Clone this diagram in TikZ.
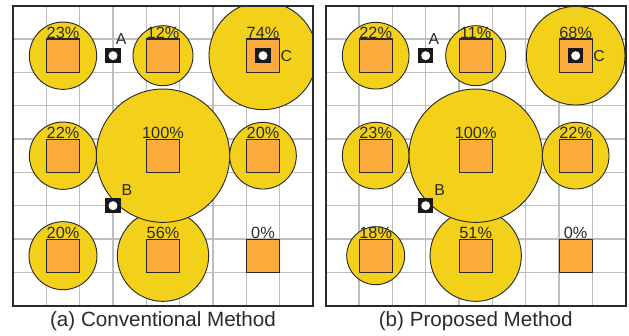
\documentclass[tikz,border=0pt]{standalone}
\usepackage{fontspec}
\setmainfont{Liberation Sans}

\definecolor{zoneyellow}{HTML}{F3D11B}
\definecolor{cellorange}{HTML}{FAAB3B}
\definecolor{inkdark}{HTML}{2A2A2A}
\definecolor{gridgray}{HTML}{BEBEBE}

\tikzset{
  gridline/.style={draw=gridgray, line width=1.2pt},
  panelframe/.style={draw=inkdark, line width=1.7pt},
  zone/.style={circle, draw=inkdark, line width=0.8pt, fill=zoneyellow, inner sep=0pt, outer sep=0pt},
  cellbox/.style={rectangle, draw=inkdark, line width=0.9pt, fill=cellorange, minimum size=1cm, inner sep=0pt},
  pct/.style={anchor=base, inner sep=0pt, text=inkdark, font=\fontsize{13.9}{16}\selectfont},
  probe/.style={rectangle, fill=black!90, minimum size=0.46cm, inner sep=0pt},
  probehole/.style={circle, fill=white, minimum size=0.27cm, inner sep=0pt},
  probelabel/.style={anchor=base west, inner sep=0pt, text=inkdark, font=\fontsize{13.5}{15}\selectfont},
  captiontext/.style={anchor=base, inner sep=0pt, text=inkdark, font=\fontsize{17.6}{20}\selectfont},
}

% #1 name prefix, #2 x offset, #3 zone list x/y/radius, #4 cell list x/y/label, #5 caption
\newcommand{\methodpanel}[5]{%
  \begin{scope}[shift={(#2,0.909)}]
    \begin{scope}
      \clip (0,0) rectangle (9,9);
      \draw[gridline] (0,0) grid (9,9);
      \foreach \cx/\cy/\rad [count=\i] in {#3}{%
        \ifdim\rad pt>0pt
          \node[zone, minimum size={2*\rad cm}] (#1zone\i) at (\cx,\cy) {};
        \fi}
    \end{scope}
    \draw[panelframe] (0,0) rectangle (9,9);
    \foreach \cx/\cy/\lab [count=\i] in {#4}{%
      \node[cellbox] (#1cell\i) at (\cx,\cy) {};
      \node[pct] (#1pct\i) at (\cx,\cy+0.52) {\lab};}
    % measurement probes
    \node[probe] (#1probeA) at (3,7.5) {};
    \node[probehole] (#1holeA) at (#1probeA) {};
    \node[probelabel] (#1labA) at (3.08,7.83) {A};
    \node[probe] (#1probeB) at (3,3) {};
    \node[probehole] (#1holeB) at (#1probeB) {};
    \node[probelabel] (#1labB) at (3.25,3.32) {B};
    \node[probe] (#1probeC) at (7.5,7.5) {};
    \node[probehole] (#1holeC) at (#1probeC) {};
    \node[probelabel] (#1labC) at (8.02,7.32) {C};
    \node[captiontext] (#1caption) at (4.5,-0.61) {#5};
  \end{scope}}

\begin{document}
\begin{tikzpicture}
  \useasboundingbox (0,0) rectangle (18.87,10.08);

  \methodpanel{conv}{0.39}
    {1.5/1.5/1.02, 4.5/1.5/1.37, 7.5/1.5/0,
     1.5/4.5/1.01, 4.5/4.5/2.0, 7.5/4.5/1.0,
     1.5/7.5/1.01, 4.5/7.5/0.9, 7.5/7.5/1.62}
    {1.5/1.5/20\%, 4.5/1.5/56\%, 7.5/1.5/0\%,
     1.5/4.5/22\%, 4.5/4.5/100\%, 7.5/4.5/20\%,
     1.5/7.5/23\%, 4.5/7.5/12\%, 7.5/7.5/74\%}
    {(a) Conventional Method}

  \methodpanel{prop}{9.771}
    {1.5/1.5/0.87, 4.5/1.5/1.37, 7.5/1.5/0,
     1.5/4.5/1.0, 4.5/4.5/2.0, 7.5/4.5/1.0,
     1.5/7.5/1.0, 4.5/7.5/0.9, 7.5/7.5/1.48}
    {1.5/1.5/18\%, 4.5/1.5/51\%, 7.5/1.5/0\%,
     1.5/4.5/23\%, 4.5/4.5/100\%, 7.5/4.5/22\%,
     1.5/7.5/22\%, 4.5/7.5/11\%, 7.5/7.5/68\%}
    {(b) Proposed Method}
\end{tikzpicture}
\end{document}
